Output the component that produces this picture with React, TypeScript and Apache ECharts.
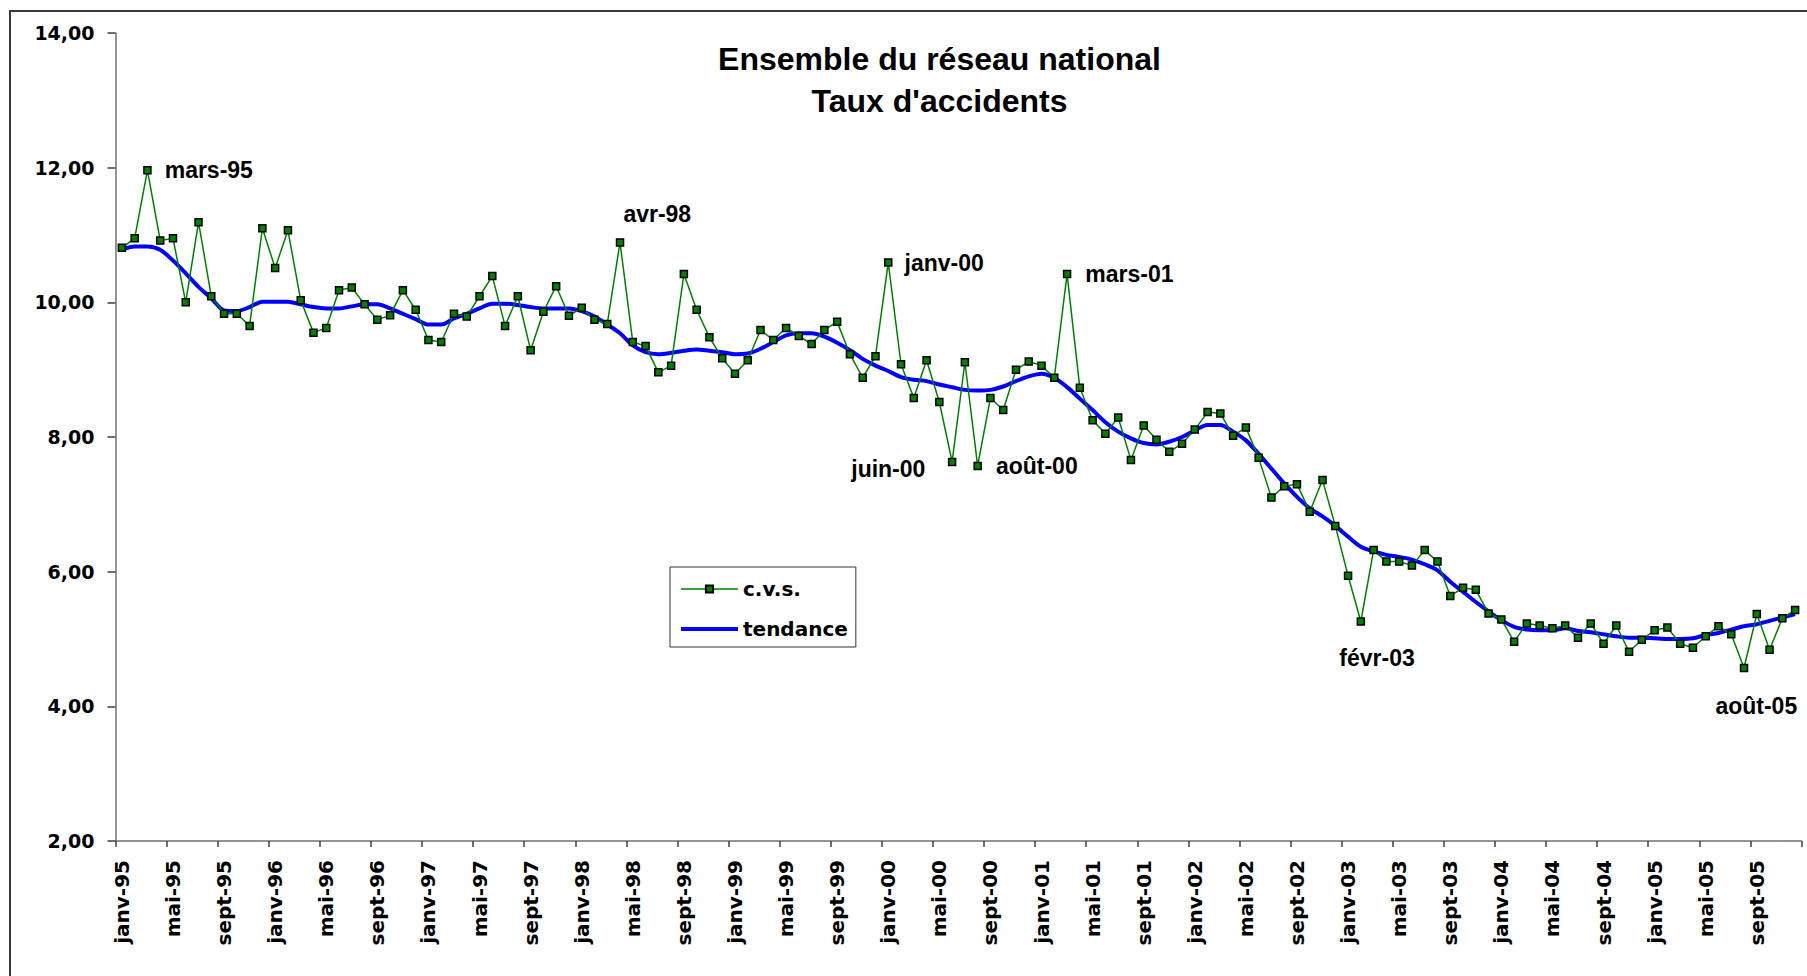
import React, { useEffect, useRef } from "react";
import * as echarts from "echarts";

const monthNames = ["janv", "févr", "mars", "avr", "mai", "juin", "juil", "août", "sept", "oct", "nov", "déc"];
const years = ["95", "96", "97", "98", "99", "00", "01", "02", "03", "04", "05"];
const categories: string[] = years.flatMap((y) => monthNames.map((m) => `${m}-${y}`));

// Série corrigée des variations saisonnières (c.v.s.)
const cvs = [
  10.81, 10.95, 11.96, 10.92, 10.95, 10.0, 11.19, 10.09, 9.83, 9.83, 9.65, 11.1,
  10.51, 11.07, 10.03, 9.55, 9.62, 10.18, 10.22, 9.97, 9.74, 9.81, 10.18, 9.89,
  9.44, 9.41, 9.83, 9.79, 10.09, 10.39, 9.65, 10.09, 9.29, 9.86, 10.24, 9.8,
  9.92, 9.74, 9.68, 10.89, 9.41, 9.35, 8.96, 9.06, 10.42, 9.89, 9.48, 9.17,
  8.94, 9.14, 9.59, 9.44, 9.62, 9.5, 9.38, 9.59, 9.71, 9.23, 8.88, 9.2,
  10.59, 9.08, 8.58, 9.14, 8.52, 7.63, 9.11, 7.57, 8.58, 8.4, 9.0, 9.12,
  9.06, 8.88, 10.42, 8.73, 8.25, 8.05, 8.29, 7.66, 8.17, 7.96, 7.78, 7.9,
  8.11, 8.37, 8.35, 8.02, 8.14, 7.69, 7.1, 7.27, 7.3, 6.89, 7.36, 6.68,
  5.94, 5.26, 6.32, 6.15, 6.15, 6.09, 6.32, 6.15, 5.64, 5.76, 5.73, 5.38,
  5.29, 4.96, 5.23, 5.2, 5.16, 5.2, 5.02, 5.23, 4.93, 5.2, 4.81, 4.99,
  5.13, 5.17, 4.93, 4.87, 5.04, 5.19, 5.07, 4.57, 5.37, 4.84, 5.31, 5.43,
];

// Tendance
const tendance = [
  10.78, 10.83, 10.83, 10.78, 10.62, 10.43, 10.23, 10.06, 9.88, 9.87, 9.93, 10.01,
  10.01, 10.01, 9.97, 9.93, 9.91, 9.91, 9.94, 9.97, 9.97, 9.91, 9.83, 9.75,
  9.67, 9.67, 9.76, 9.83, 9.91, 9.98, 9.98, 9.96, 9.93, 9.91, 9.91, 9.91,
  9.87, 9.79, 9.67, 9.54, 9.36, 9.26, 9.23, 9.25, 9.28, 9.3, 9.28, 9.26,
  9.23, 9.24, 9.31, 9.41, 9.51, 9.54, 9.54, 9.49, 9.4, 9.29, 9.16, 9.06,
  8.98, 8.89, 8.85, 8.83, 8.78, 8.74, 8.7, 8.69, 8.7, 8.75, 8.83, 8.9,
  8.94, 8.88, 8.74, 8.57, 8.4, 8.22, 8.08, 7.98, 7.91, 7.89, 7.93, 8.0,
  8.1, 8.18, 8.18, 8.08, 7.95, 7.75, 7.53, 7.31, 7.11, 6.94, 6.82, 6.68,
  6.52, 6.37, 6.3, 6.25, 6.22, 6.18, 6.11, 6.02, 5.85, 5.7, 5.55, 5.41,
  5.28, 5.18, 5.14, 5.13, 5.13, 5.16, 5.12, 5.1, 5.07, 5.04, 5.02, 5.02,
  5.01, 5.0, 5.0, 5.01, 5.06, 5.09, 5.14, 5.19, 5.22, 5.27, 5.32, 5.37,
];

const seriesNames = ["c.v.s.", "tendance"];
const titleLines = ["Ensemble du réseau national", "Taux d'accidents"];
const annotated = ["mars-95", "avr-98", "janv-00", "juin-00", "août-00", "mars-01", "févr-03", "août-05"];
const yMin = 2;
const yMax = 14;
const yStep = 2;

// label placement relative to the marked point (style only)
const labelPlacement: Record<string, { align: string; dx: number; dy: number }> = {
  "mars-95": { align: "left", dx: 18, dy: 0 },
  "avr-98": { align: "center", dx: 38, dy: -28 },
  "janv-00": { align: "left", dx: 17, dy: 1 },
  "juin-00": { align: "right", dx: -26, dy: 8 },
  "août-00": { align: "left", dx: 19, dy: 1 },
  "mars-01": { align: "left", dx: 19, dy: 1 },
  "févr-03": { align: "center", dx: 17, dy: 37 },
  "août-05": { align: "center", dx: 13, dy: 39 },
};

const SYM = 7;

export default function App() {
  const ref = useRef<HTMLDivElement>(null);

  useEffect(() => {
    if (!ref.current) return;
    const chart = echarts.init(ref.current, undefined, { renderer: "svg" });

    const cvsData = cvs.map((v, i) => {
      const name = categories[i];
      if (!annotated.includes(name)) return v;
      const p = labelPlacement[name];
      return {
        value: v,
        label: {
          show: true,
          formatter: name,
          position: [SYM / 2 + p.dx, SYM / 2 + p.dy],
          align: p.align,
          verticalAlign: "middle",
          fontFamily: "Liberation Sans",
          fontWeight: "bold",
          fontSize: 23,
          color: "#000",
        },
      };
    });

    chart.setOption({
      animation: false,
      backgroundColor: "#ffffff",
      title: {
        text: titleLines.join("\n"),
        left: 939.5,
        top: 38,
        padding: 0,
        textAlign: "center",
        textVerticalAlign: "top",
        textStyle: {
          fontFamily: "Liberation Sans",
          fontWeight: "bold",
          fontSize: 32,
          lineHeight: 42,
          color: "#000",
        },
      },
      legend: {
        orient: "vertical",
        left: 670,
        top: 567,
        data: [
          { name: seriesNames[0], lineStyle: { width: 1.5 } },
          { name: seriesNames[1], itemStyle: { opacity: 0 }, lineStyle: { width: 4 } },
        ],
        itemWidth: 57,
        itemHeight: 9,
        itemGap: 20,
        padding: [12, 8, 8, 9],
        borderColor: "#333",
        borderWidth: 1,
        backgroundColor: "#fff",
        textStyle: {
          fontFamily: "DejaVu Sans",
          fontWeight: "bold",
          fontSize: 20,
          color: "#000",
        },
      },
      graphic: [
        {
          type: "rect",
          silent: true,
          z: -10,
          shape: { x: 10, y: 11, width: 1850, height: 1050 },
          style: { fill: "none", stroke: "#3a3a3a", lineWidth: 2 },
        },
      ],
      grid: { left: 115.5, right: 5.5, top: 33, bottom: 135, containLabel: false },
      xAxis: {
        type: "category",
        data: categories,
        boundaryGap: true,
        axisLine: { show: true, lineStyle: { color: "#707070", width: 1.5 } },
        axisTick: { show: true, interval: 3, length: 6, lineStyle: { color: "#404040", width: 1.5 } },
        axisLabel: {
          interval: 3,
          rotate: 90,
          margin: 19,
          fontFamily: "DejaVu Sans",
          fontWeight: "bold",
          fontSize: 20,
          color: "#000",
        },
        splitLine: { show: false },
      },
      yAxis: {
        type: "value",
        min: yMin,
        max: yMax,
        interval: yStep,
        axisLine: { show: true, lineStyle: { color: "#707070", width: 1.5 } },
        axisTick: { show: true, length: 8, lineStyle: { color: "#404040", width: 1.5 } },
        axisLabel: {
          margin: 21,
          fontFamily: "DejaVu Sans",
          fontWeight: "bold",
          fontSize: 19,
          color: "#000",
          formatter: (v: number) => v.toFixed(2).replace(".", ","),
        },
        splitLine: { show: false },
      },
      series: [
        {
          name: "tendance",
          type: "line",
          data: tendance,
          symbol: "none",
          smooth: 0.3,
          lineStyle: { color: "#0000ff", width: 4 },
          itemStyle: { color: "#0000ff" },
          z: 2,
        },
        {
          name: "c.v.s.",
          type: "line",
          data: cvsData,
          symbol: "rect",
          symbolSize: SYM,
          showAllSymbol: true,
          lineStyle: { color: "#008000", width: 1.5 },
          itemStyle: { color: "#008000", borderColor: "#000", borderWidth: 1.5 },
          z: 3,
        },
      ],
    });

    return () => chart.dispose();
  }, []);

  return (
    <div
      ref={ref}
      style={{ position: "fixed", left: 0, top: 0, width: 1807, height: 976, background: "#fff" }}
    />
  );
}
